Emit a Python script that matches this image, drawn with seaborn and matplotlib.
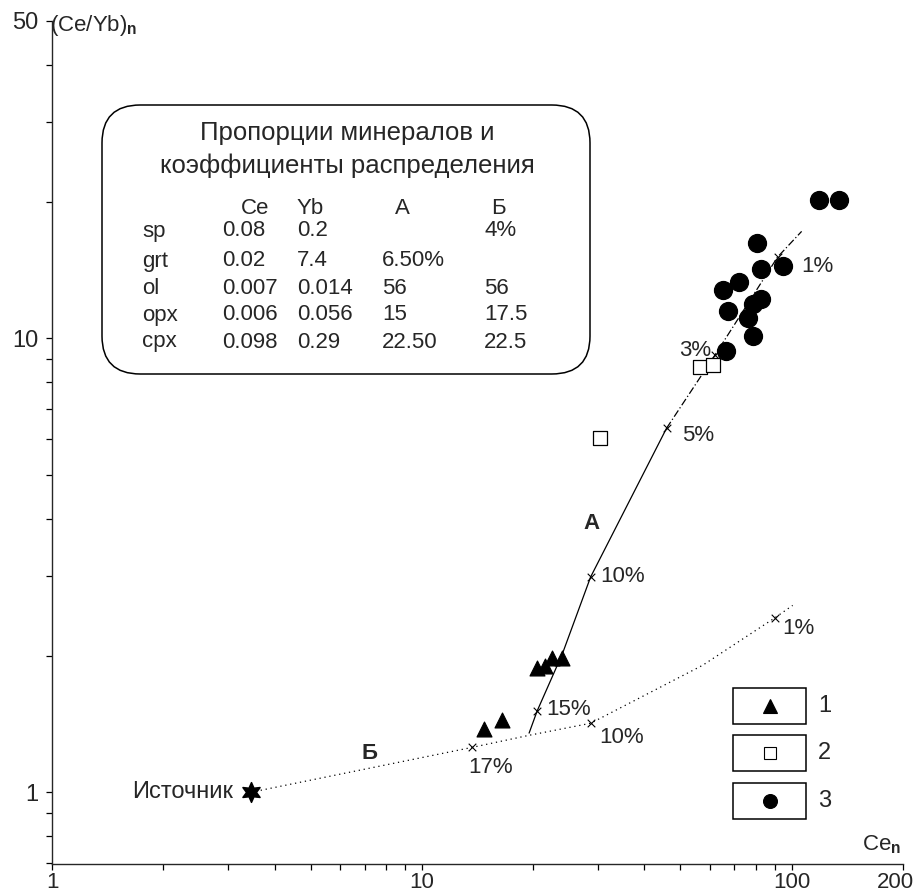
import matplotlib
matplotlib.use('Agg')
import matplotlib.pyplot as plt
import matplotlib.transforms as mtransforms
import seaborn as sns
from matplotlib.patches import FancyBboxPatch, Rectangle
from matplotlib.ticker import LogLocator, NullFormatter, FixedLocator

# group 1 - triangles
tri_ce = [20.5, 21.5, 22.5, 24.0, 14.7, 16.5]
tri_y = [1.88, 1.90, 1.98, 1.98, 1.38, 1.44]
# group 2 - open squares
sq_ce = [56.4, 61.1, 30.3]
sq_y = [8.63, 8.72, 6.02]
# group 3 - circles
circ_ce = [118.3, 134.0, 80.4, 94.6, 82.5, 71.9, 65.1, 82.5, 78.5, 67.1, 76.0, 78.5, 66.3]
circ_y = [20.2, 20.2, 16.2, 14.4, 14.2, 13.3, 12.8, 12.2, 11.9, 11.5, 11.1, 10.1, 9.4]
# source
src_ce = [3.45]
src_y = [1.0]

# melting curve A (solid part, then dash-dot part)
a_solid_ce = [19.5, 20.5, 24.0, 28.6, 45.9]
a_solid_y = [1.35, 1.51, 2.02, 2.98, 6.34]
a_dash_ce = [45.9, 62.7, 91.6, 106.4]
a_dash_y = [6.34, 9.31, 15.1, 17.2]
a_tick_ce = [20.5, 28.6, 45.9, 62.0, 91.6]
a_tick_y = [1.51, 2.98, 6.34, 9.2, 15.1]
a_tick_lbl = ['15%', '10%', '5%', '3%', '1%']

# melting curve B (dotted)
b_ce = [3.45, 13.7, 19.5, 28.6, 57.5, 89.9, 100.6]
b_y = [1.0, 1.256, 1.335, 1.419, 1.905, 2.42, 2.58]
b_tick_ce = [13.7, 28.6, 89.9]
b_tick_y = [1.256, 1.419, 2.42]
b_tick_lbl = ['17%', '10%', '1%']

# table in the box
tbl_rows = ['sp', 'grt', 'ol', 'opx', 'cpx']
tbl_ce = ['0.08', '0.02', '0.007', '0.006', '0.098']
tbl_yb = ['0.2', '7.4', '0.014', '0.056', '0.29']
tbl_a = ['', '6.50%', '56', '15', '22.50']
tbl_b = ['4%', '', '56', '17.5', '22.5']

sns.set_style('ticks')
plt.rcParams['font.family'] = ['Liberation Sans', 'DejaVu Sans']
plt.rcParams['mathtext.fontset'] = 'custom'
plt.rcParams['mathtext.rm'] = 'Liberation Sans'
plt.rcParams['mathtext.bf'] = 'Liberation Sans:bold'

W, H = 917, 894
fig = plt.figure(figsize=(W / 100, H / 100), dpi=100)
ax = fig.add_axes([52 / W, 1 - 864 / H, 851 / W, 843 / H])
ax.set_xscale('log')
ax.set_yscale('log')
ax.set_xlim(1, 200)
ax.set_ylim(0.695, 50)


def axfrac(px, py):
    # pixel position of the reference picture -> axes fraction
    return (px - 52) / 851, (864 - py) / 843


k = dict(color='black', linewidth=0.9, legend=False, sort=False, ax=ax)
sns.lineplot(x=a_solid_ce, y=a_solid_y, **k)
sns.lineplot(x=a_dash_ce, y=a_dash_y, linestyle=(0, (6, 2, 1, 2)), **k)
sns.lineplot(x=b_ce, y=b_y, linestyle=(0, (1, 3)), **k)

sns.scatterplot(x=a_tick_ce + b_tick_ce, y=a_tick_y + b_tick_y, marker='x', s=30,
                color='black', linewidth=0.8, ax=ax, legend=False, zorder=4)

sns.scatterplot(x=tri_ce, y=tri_y, marker='^', s=115, color='black', edgecolor='black', ax=ax, zorder=5)
sns.scatterplot(x=sq_ce, y=sq_y, marker='s', s=110, facecolor='white', edgecolor='black',
                linewidth=0.9, ax=ax, zorder=5)
sns.scatterplot(x=circ_ce, y=circ_y, marker='o', s=165, color='black', edgecolor='black', ax=ax, zorder=5)
sns.scatterplot(x=src_ce, y=src_y, marker=(6, 1, 0), s=200, color='black', edgecolor='black', ax=ax, zorder=5)

fs = 16
a_off = [(9, 2), (10, 0), (15, -7), (-4, 4), (24, -9)]
for c, v, t, o in zip(a_tick_ce, a_tick_y, a_tick_lbl, a_off):
    ax.annotate(t, (c, v), xytext=o, textcoords='offset pixels', ha='right' if o[0] < 0 else 'left',
                va='center', fontsize=fs)
b_off = [(-4, -20), (9, -14), (8, -10)]
for c, v, t, o in zip(b_tick_ce, b_tick_y, b_tick_lbl, b_off):
    ax.annotate(t, (c, v), xytext=o, textcoords='offset pixels', ha='left', va='center', fontsize=fs)

ax.annotate('Источник', (src_ce[0], src_y[0]), xytext=(-18, 0), textcoords='offset pixels',
            ha='right', va='center', fontsize=fs + 1)
ax.text(28.8, 3.91, 'А', fontsize=fs, fontweight='bold', ha='center', va='center')
ax.text(7.24, 1.219, 'Б', fontsize=fs, fontweight='bold', ha='center', va='center')

# info box
x0, y0 = axfrac(102, 374)
x1, y1 = axfrac(590, 105)
ax.add_patch(FancyBboxPatch((x0, y0), x1 - x0, y1 - y0, boxstyle='round,pad=0,rounding_size=0.045',
                            transform=ax.transAxes, facecolor='white', edgecolor='black', linewidth=1.1,
                            zorder=3))
for txt, py in [('Пропорции минералов и', 133), ('коэффициенты распределения', 166)]:
    ax.text(*axfrac(347, py), txt, transform=ax.transAxes, ha='center', va='center', fontsize=18.5, zorder=4)
tfs = 16
for txt, px_ in [('Ce', 255), ('Yb', 310), ('А', 402), ('Б', 498)]:
    ax.text(*axfrac(px_, 208), txt, transform=ax.transAxes, ha='center', va='center', fontsize=tfs, zorder=4)
row_y = [231, 261, 288, 315, 342]
cols = [(142, tbl_rows), (222, tbl_ce), (297, tbl_yb), (382, tbl_a), (484, tbl_b)]
for px_, vals in cols:
    for v, py in zip(vals, row_y):
        ax.text(*axfrac(px_, py), v, transform=ax.transAxes, ha='left', va='center', fontsize=tfs, zorder=4)

# legend boxes
for i, (mk, fc, by) in enumerate([('^', 'black', 706), ('s', 'white', 753), ('o', 'black', 801)]):
    bx0, by0 = axfrac(733, by + 18)
    bx1, by1 = axfrac(806, by - 18)
    ax.add_patch(Rectangle((bx0, by0), bx1 - bx0, by1 - by0, transform=ax.transAxes,
                           facecolor='white', edgecolor='black', linewidth=1.1, zorder=3))
    mx, my = axfrac(770, by)
    ax.plot([mx], [my], marker=mk, markersize=10 if mk != 's' else 9, markerfacecolor=fc,
            markeredgecolor='black', markeredgewidth=0.8, transform=ax.transAxes, zorder=4, clip_on=False)
    ax.text(*axfrac(818, by), str(i + 1), transform=ax.transAxes, ha='left', va='center', fontsize=fs + 1)

# axes styling
sns.despine(ax=ax)
for s in ['left', 'bottom']:
    ax.spines[s].set_linewidth(1.0)
ax.xaxis.set_major_locator(FixedLocator([1, 10, 100, 200]))
ax.set_xticklabels(['1', '10', '100', '200'])
ax.xaxis.set_minor_locator(LogLocator(base=10, subs=range(2, 10)))
ax.xaxis.set_minor_formatter(NullFormatter())
ax.yaxis.set_major_locator(FixedLocator([1, 10, 50]))
ax.set_yticklabels(['1', '10', '50'])
ax.yaxis.set_minor_locator(LogLocator(base=10, subs=range(2, 10)))
ax.yaxis.set_minor_formatter(NullFormatter())
ax.tick_params(which='both', direction='out', length=4, width=0.9, labelsize=17, color='black')
ax.tick_params(axis='x', pad=1.5, labelsize=16)
ax.tick_params(axis='y', pad=6)
last = ax.get_xticklabels()[-1]
last.set_transform(last.get_transform() + mtransforms.ScaledTranslation(-8 / 100, 0, fig.dpi_scale_trans))

ax.text(*axfrac(50, 25), '(Ce/Yb)$_{\\mathbf{n}}$', transform=ax.transAxes, ha='left', va='center',
        fontsize=fs, clip_on=False)
ax.text(*axfrac(862, 845), 'Ce$_{\\mathbf{n}}$', transform=ax.transAxes, ha='left', va='center',
        fontsize=fs, clip_on=False)

fig.savefig('out.png', dpi=100, facecolor='white')
